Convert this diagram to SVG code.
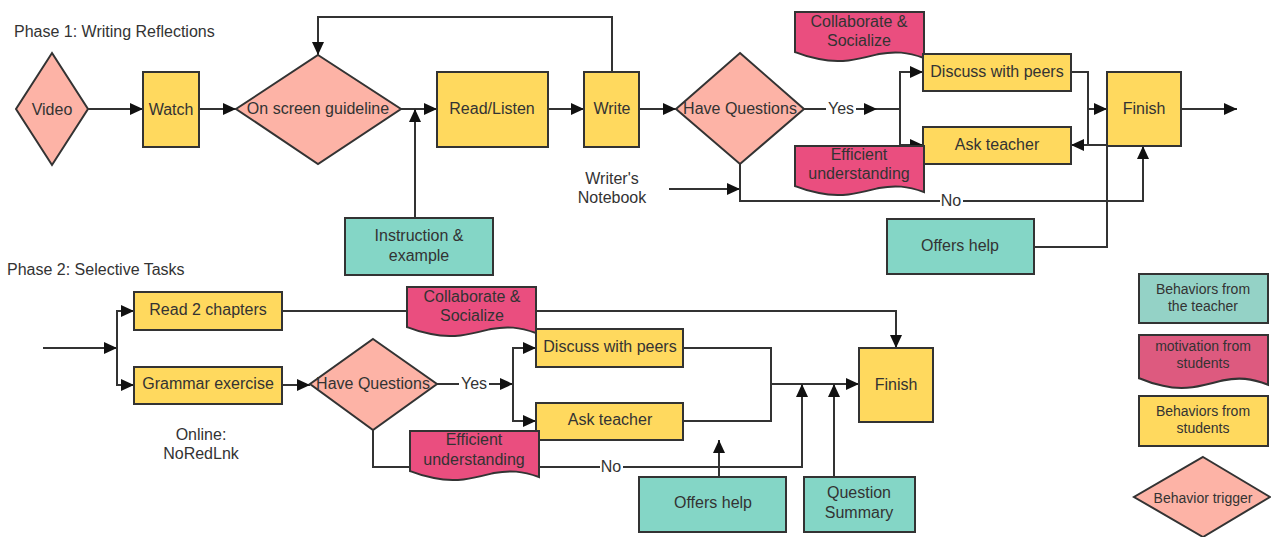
<svg xmlns="http://www.w3.org/2000/svg" width="1271" height="537" viewBox="0 0 1271 537">
  <style>
    text { font-family: "Liberation Sans", Arial, sans-serif; font-size: 16px; fill: #333; text-anchor: middle; dominant-baseline: central; }
    .title { text-anchor: start; }
    .legend-text { font-size: 14px; }
    .box { stroke: #333; stroke-width: 2; }
    .student { fill: #ffd95e; }
    .teacher { fill: #84d6c6; }
    .trigger { fill: #fdb3a6; }
    .motive { fill: #ea4e7f; }
    .teacher-key { fill: #94d2c6; }
    .motive-key { fill: #dd5a7f; }
    .wire { fill: none; stroke: #333; stroke-width: 2; }
    .tag { fill: #fff; }
  </style>
  <defs>
    <marker id="head" markerUnits="userSpaceOnUse" markerWidth="13" markerHeight="12" refX="13" refY="6" orient="auto">
      <path d="M0,0 L13,6 L0,12 Z" fill="#111"/>
    </marker>
    <!-- document shape: flat top, wavy bottom (129 wide) -->
    <path id="doc" d="M0,0 H129 V46 C112,40 100,39 84,42 C64,47 46,52 24,47 C12,45 5,42 0,40 Z"/>
  </defs>

  <text class="title" x="14" y="31">Phase 1: Writing Reflections</text>
  <text class="title" x="7" y="269">Phase 2: Selective Tasks</text>

  <g id="connectors">
    <!-- phase 1 -->
    <path class="wire" d="M88,109 H143" marker-end="url(#head)"/>
    <path class="wire" d="M199,109 H236" marker-end="url(#head)"/>
    <path class="wire" d="M401,109 H437" marker-end="url(#head)"/>
    <path class="wire" d="M415,218 V109" marker-end="url(#head)"/>
    <path class="wire" d="M548,109 H584" marker-end="url(#head)"/>
    <path class="wire" d="M612,72 V17 H318 V55" marker-end="url(#head)"/>
    <path class="wire" d="M639,109 H676" marker-end="url(#head)"/>
    <path class="wire" d="M804,109 H877" marker-end="url(#head)"/>
    <path class="wire" d="M877,109 H900"/>
    <path class="wire" d="M900,109 V72 H923" marker-end="url(#head)"/>
    <path class="wire" d="M900,109 V145 H923" marker-end="url(#head)"/>
    <path class="wire" d="M1071,72 H1088 V109 H1107" marker-end="url(#head)"/>
    <path class="wire" d="M1088,109 V145"/>
    <path class="wire" d="M1034,247 H1107 V145 H1071" marker-end="url(#head)"/>
    <path class="wire" d="M1181,109 H1237" marker-end="url(#head)"/>
    <path class="wire" d="M669,189 H740" marker-end="url(#head)"/>
    <path class="wire" d="M740,164 V201 H1143 V146" marker-end="url(#head)"/>
    <rect class="tag" x="826" y="100" width="30" height="18"/>
    <text x="841" y="108">Yes</text>
    <rect class="tag" x="940" y="192" width="23" height="18"/>
    <text x="951" y="200">No</text>

    <!-- phase 2 -->
    <path class="wire" d="M43,348 H117" marker-end="url(#head)"/>
    <path class="wire" d="M117,348 V311 H134" marker-end="url(#head)"/>
    <path class="wire" d="M117,348 V385 H134" marker-end="url(#head)"/>
    <path class="wire" d="M282,311 H896 V348" marker-end="url(#head)"/>
    <path class="wire" d="M282,385 H310" marker-end="url(#head)"/>
    <path class="wire" d="M437,384 H513" marker-end="url(#head)"/>
    <path class="wire" d="M513,384 V348 H536" marker-end="url(#head)"/>
    <path class="wire" d="M513,384 V421 H536" marker-end="url(#head)"/>
    <path class="wire" d="M683,348 H771 V421 H683"/>
    <path class="wire" d="M771,384 H859" marker-end="url(#head)"/>
    <path class="wire" d="M719,477 V440" marker-end="url(#head)"/>
    <path class="wire" d="M373,430 V467 H802 V384" marker-end="url(#head)"/>
    <path class="wire" d="M834,477 V384" marker-end="url(#head)"/>
    <rect class="tag" x="459" y="375" width="30" height="18"/>
    <text x="474" y="383">Yes</text>
    <rect class="tag" x="600" y="458" width="23" height="18"/>
    <text x="611" y="466">No</text>
  </g>

  <!-- phase 1 nodes -->
  <g id="video">
    <polygon class="box trigger" points="52,53 88,109 52,165 16,109"/>
    <text x="52" y="109">Video</text>
  </g>
  <g id="watch">
    <rect class="box student" x="143" y="72" width="56" height="75"/>
    <text x="171" y="109">Watch</text>
  </g>
  <g id="guideline">
    <polygon class="box trigger" points="318,55 401,109 318,164 236,109"/>
    <text x="318" y="108">On screen guideline</text>
  </g>
  <g id="read-listen">
    <rect class="box student" x="437" y="72" width="111" height="75"/>
    <text x="492" y="108">Read/Listen</text>
  </g>
  <g id="write">
    <rect class="box student" x="584" y="72" width="55" height="75"/>
    <text x="612" y="108">Write</text>
  </g>
  <g id="questions-1">
    <polygon class="box trigger" points="740,53 804,109 740,164 676,109"/>
    <text x="740" y="108">Have Questions</text>
  </g>
  <g id="instruction">
    <rect class="box teacher" x="345" y="218" width="148" height="57"/>
    <text x="419" y="235">Instruction &amp;</text>
    <text x="419" y="255">example</text>
  </g>
  <g id="notebook">
    <text x="612" y="178">Writer's</text>
    <text x="612" y="197">Notebook</text>
  </g>
  <g id="collaborate-1">
    <use href="#doc" x="795" y="12" class="box motive"/>
    <text x="859" y="21">Collaborate &amp;</text>
    <text x="859" y="40">Socialize</text>
  </g>
  <g id="discuss-1">
    <rect class="box student" x="923" y="54" width="148" height="37"/>
    <text x="997" y="71">Discuss with peers</text>
  </g>
  <g id="ask-1">
    <rect class="box student" x="923" y="127" width="148" height="37"/>
    <text x="997" y="144">Ask teacher</text>
  </g>
  <g id="efficient-1">
    <use href="#doc" x="795" y="146" class="box motive"/>
    <text x="859" y="154">Efficient</text>
    <text x="859" y="173">understanding</text>
  </g>
  <g id="finish-1">
    <rect class="box student" x="1107" y="72" width="74" height="74"/>
    <text x="1144" y="108">Finish</text>
  </g>
  <g id="offers-1">
    <rect class="box teacher" x="887" y="219" width="147" height="55"/>
    <text x="960" y="245">Offers help</text>
  </g>

  <!-- phase 2 nodes -->
  <g id="read-chapters">
    <rect class="box student" x="134" y="292" width="148" height="38"/>
    <text x="208" y="309">Read 2 chapters</text>
  </g>
  <g id="grammar">
    <rect class="box student" x="134" y="367" width="148" height="37"/>
    <text x="208" y="383">Grammar exercise</text>
  </g>
  <g id="noredlnk">
    <text x="201" y="434">Online:</text>
    <text x="201" y="453">NoRedLnk</text>
  </g>
  <g id="questions-2">
    <polygon class="box trigger" points="373,339 437,384 373,430 310,384"/>
    <text x="373" y="383">Have Questions</text>
  </g>
  <g id="collaborate-2">
    <use href="#doc" x="407" y="287" class="box motive"/>
    <text x="472" y="296">Collaborate &amp;</text>
    <text x="472" y="315">Socialize</text>
  </g>
  <g id="discuss-2">
    <rect class="box student" x="536" y="329" width="147" height="38"/>
    <text x="610" y="346">Discuss with peers</text>
  </g>
  <g id="ask-2">
    <rect class="box student" x="536" y="403" width="147" height="37"/>
    <text x="610" y="419">Ask teacher</text>
  </g>
  <g id="efficient-2">
    <use href="#doc" x="410" y="431" class="box motive"/>
    <text x="474" y="439">Efficient</text>
    <text x="474" y="459">understanding</text>
  </g>
  <g id="offers-2">
    <rect class="box teacher" x="639" y="477" width="147" height="55"/>
    <text x="713" y="502">Offers help</text>
  </g>
  <g id="summary">
    <rect class="box teacher" x="804" y="477" width="111" height="55"/>
    <text x="859" y="492">Question</text>
    <text x="859" y="512">Summary</text>
  </g>
  <g id="finish-2">
    <rect class="box student" x="859" y="348" width="74" height="74"/>
    <text x="896" y="384">Finish</text>
  </g>

  <!-- legend -->
  <g id="key-teacher">
    <rect class="box teacher-key" x="1139" y="274" width="129" height="49"/>
    <text class="legend-text" x="1203" y="289">Behaviors from</text>
    <text class="legend-text" x="1203" y="306">the teacher</text>
  </g>
  <g id="key-motivation">
    <use href="#doc" x="1139" y="335" class="box motive-key" transform="translate(1139 335) scale(1 1.08) translate(-1139 -335)"/>
    <text class="legend-text" x="1203" y="346">motivation from</text>
    <text class="legend-text" x="1203" y="363">students</text>
  </g>
  <g id="key-students">
    <rect class="box student" x="1139" y="396" width="129" height="50"/>
    <text class="legend-text" x="1203" y="411">Behaviors from</text>
    <text class="legend-text" x="1203" y="428">students</text>
  </g>
  <g id="key-trigger">
    <polygon class="box trigger" points="1203,457 1270,497 1203,537 1134,497"/>
    <text class="legend-text" x="1203" y="498">Behavior trigger</text>
  </g>
</svg>
